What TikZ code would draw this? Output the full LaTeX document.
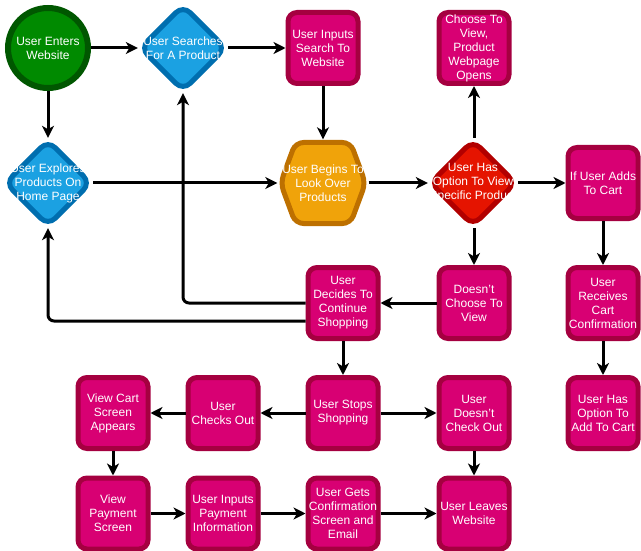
\documentclass[tikz,border=0pt]{standalone}
\usepackage{fontspec}
\setmainfont{Liberation Sans}
\usetikzlibrary{arrows.meta}
\definecolor{magfill}{HTML}{D80073}
\definecolor{magline}{HTML}{A50040}
\definecolor{grnfill}{HTML}{008A00}
\definecolor{grnline}{HTML}{005700}
\definecolor{bluefill}{HTML}{1BA1E2}
\definecolor{blueline}{HTML}{006EAF}
\definecolor{orgfill}{HTML}{F0A30A}
\definecolor{orgline}{HTML}{BD7000}
\definecolor{redfill}{HTML}{E51400}
\definecolor{redline}{HTML}{B20000}
\newcommand{\lblfont}{\fontsize{12}{14}\selectfont}
\tikzset{
  txt/.style={text=white, align=center, font=\lblfont, inner sep=0pt},
  stepbox/.style={txt, draw=magline, fill=magfill, line width=5pt, rounded corners=9pt,
    minimum width=70pt, minimum height=71pt},
  startnode/.style={txt, circle, draw=grnline, fill=grnfill, line width=6pt, minimum size=80pt},
  diam/.style 2 args={txt, minimum width=90pt, minimum height=90pt,
    path picture={\draw[line width=5pt, draw=#2, fill=#1, rounded corners=10pt]
      ([xshift=2.5pt]path picture bounding box.west) --
      ([yshift=-2.5pt]path picture bounding box.north) --
      ([xshift=-2.5pt]path picture bounding box.east) --
      ([yshift=2.5pt]path picture bounding box.south) -- cycle;}},
  hexa/.style 2 args={txt, minimum width=91pt, minimum height=87pt,
    path picture={\draw[line width=5pt, draw=#2, fill=#1, rounded corners=8pt]
      ([xshift=3pt]path picture bounding box.west) --
      ([xshift=18pt,yshift=-3pt]path picture bounding box.north west) --
      ([xshift=-18pt,yshift=-3pt]path picture bounding box.north east) --
      ([xshift=-3pt]path picture bounding box.east) --
      ([xshift=-18pt,yshift=3pt]path picture bounding box.south east) --
      ([xshift=18pt,yshift=3pt]path picture bounding box.south west) -- cycle;}},
  link/.style={line width=3pt, -{Stealth[length=12pt,width=12pt,inset=3.5pt]}},
}
\begin{document}
\begin{tikzpicture}[x=1pt,y=1pt]
\useasboundingbox (0,0) rectangle (641,-551);

% top row
\node[startnode] (enter) at (48,-48) {User Enters\\Website};
\node[diam={bluefill}{blueline}] (search) at (183,-48) {User Searches\\For A Product};
\node[stepbox] (inputs) at (323,-48) {User Inputs\\Search To\\Website};
\node[stepbox] (choose) at (474,-48) {Choose To\\View,\\Product\\Webpage\\Opens};

% second row
\node[diam={bluefill}{blueline}] (explore) at (48,-183) {User Explores\\Products On\\Home Page};
\node[hexa={orgfill}{orgline}] (look) at (323,-183) {User Begins To\\Look Over\\Products};
\node[diam={redfill}{redline}] (option) at (473,-183) {User Has\\Option To View\\Specific Product};
\node[stepbox] (adds) at (603,-183) {If User Adds\\To Cart};

% third row
\node[stepbox] (decides) at (343,-303) {User\\Decides To\\Continue\\Shopping};
\node[stepbox] (notview) at (474,-303) {Doesn't\\Choose To\\View};
\node[stepbox] (cartconf) at (603,-303) {User\\Receives\\Cart\\Confirmation};

% fourth row
\node[stepbox] (viewcart) at (113,-413) {View Cart\\Screen\\Appears};
\node[stepbox] (checkout) at (223,-413) {User\\Checks Out};
\node[stepbox] (stops) at (343,-413) {User Stops\\Shopping};
\node[stepbox] (nocheck) at (474,-413) {User\\Doesn't\\Check Out};
\node[stepbox] (addopt) at (603,-413) {User Has\\Option To\\Add To Cart};

% bottom row
\node[stepbox] (payview) at (113,-513.5) {View\\Payment\\Screen};
\node[stepbox] (payinfo) at (223,-513.5) {User Inputs\\Payment\\Information};
\node[stepbox] (confirm) at (343,-513.5) {User Gets\\Confirmation\\Screen and\\Email};
\node[stepbox] (leaves) at (474,-513.5) {User Leaves\\Website};

% connectors
\draw[link] (enter) -- (search);
\draw[link] (search) -- (inputs);
\draw[link] (enter) -- (explore);
\draw[link] (inputs) -- (look);
\draw[link] (explore) -- (look);
\draw[link] (look) -- (option);
\draw[link] (option.north -| choose) -- (choose);
\draw[link] (option) -- (adds);
\draw[link] (option.south -| notview) -- (notview);
\draw[link] (notview) -- (decides);
\draw[link, rounded corners=6pt] (decides.west) -| (search.south);
\draw[link, rounded corners=6pt] ([yshift=-18pt]decides.west) -| (explore.south);
\draw[link] (decides) -- (stops);
\draw[link] (stops) -- (checkout);
\draw[link] (checkout) -- (viewcart);
\draw[link] (stops) -- (nocheck);
\draw[link] (viewcart) -- (payview);
\draw[link] (payview) -- (payinfo);
\draw[link] (payinfo) -- (confirm);
\draw[link] (confirm) -- (leaves);
\draw[link] (nocheck) -- (leaves);
\draw[link] (adds) -- (cartconf);
\draw[link] (cartconf) -- (addopt);
\end{tikzpicture}
\end{document}
